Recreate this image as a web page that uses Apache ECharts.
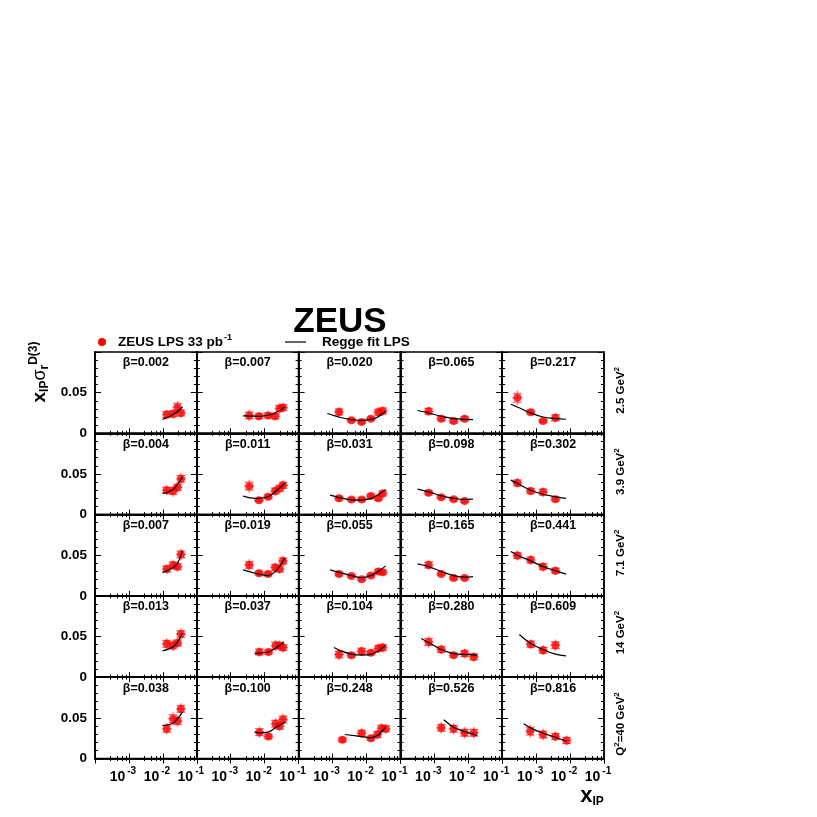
<!DOCTYPE html>
<html><head><meta charset="utf-8">
<script src="https://cdn.jsdelivr.net/npm/echarts@6/dist/echarts.min.js"></script>
<style>html,body{margin:0;padding:0;background:#fff}#c{width:817px;height:817px}</style>
</head><body><div id="c"></div>
<script>
// ---------- data ----------
const betaLabels = [
  'β=0.002','β=0.007','β=0.020','β=0.065','β=0.217',
  'β=0.004','β=0.011','β=0.031','β=0.098','β=0.302',
  'β=0.007','β=0.019','β=0.055','β=0.165','β=0.441',
  'β=0.013','β=0.037','β=0.104','β=0.280','β=0.609',
  'β=0.038','β=0.100','β=0.248','β=0.526','β=0.816'
];
const q2Labels = ['2.5 GeV{s|2}','3.9 GeV{s|2}','7.1 GeV{s|2}','14 GeV{s|2}','Q{s|2}=40 GeV{s|2}'];
const xTickValues = [0.001, 0.01, 0.1];
const xTickExponents = ['-3', '-2', '-1'];
const yTickValues = [0, 0.05];
const yTickTexts = ['0', '0.05'];

const pointX = [
  [0.013,0.020,0.027,0.034],
  [0.0035,0.0068,0.0126,0.0204,0.0275,0.0347],
  [0.00155,0.0036,0.0072,0.0135,0.0224,0.030],
  [0.00068,0.0016,0.0037,0.0078],
  [0.00028,0.00069,0.0016,0.0037],
  [0.013,0.020,0.027,0.034],
  [0.0035,0.0068,0.0126,0.0204,0.0275,0.0347],
  [0.00155,0.0036,0.0072,0.0135,0.0224,0.030],
  [0.00068,0.0016,0.0037,0.0078],
  [0.00028,0.00069,0.0016,0.0037],
  [0.013,0.020,0.027,0.034],
  [0.0035,0.0068,0.0126,0.0204,0.0275,0.0347],
  [0.00155,0.0036,0.0072,0.0135,0.0224,0.030],
  [0.00068,0.0016,0.0037,0.0078],
  [0.00028,0.00069,0.0016,0.0037],
  [0.013,0.020,0.027,0.034],
  [0.0070,0.0129,0.021,0.0275,0.0347],
  [0.00155,0.0036,0.0072,0.0135,0.0224,0.030],
  [0.00068,0.0016,0.0037,0.0078,0.0145],
  [0.00069,0.0016,0.0037],
  [0.013,0.020,0.027,0.034],
  [0.0070,0.0129,0.021,0.0275,0.0347],
  [0.00195,0.0072,0.0135,0.021,0.028,0.037],
  [0.0016,0.0037,0.0078,0.0145],
  [0.00067,0.0016,0.0037,0.0079]
];
const pointY = [
  [0.023,0.024,0.032,0.025],
  [0.022,0.021,0.022,0.021,0.0305,0.0317],
  [0.0263,0.016,0.014,0.018,0.026,0.0275],
  [0.027,0.018,0.015,0.018],
  [0.0436,0.026,0.015,0.019],
  [0.030,0.029,0.0335,0.044],
  [0.035,0.0178,0.022,0.029,0.032,0.036],
  [0.020,0.0187,0.0187,0.0228,0.020,0.026],
  [0.0268,0.0212,0.019,0.0166],
  [0.039,0.029,0.0277,0.019],
  [0.033,0.038,0.036,0.051],
  [0.038,0.028,0.027,0.035,0.033,0.043],
  [0.027,0.0246,0.0205,0.025,0.030,0.029],
  [0.038,0.027,0.022,0.022],
  [0.0496,0.0443,0.036,0.031],
  [0.041,0.039,0.042,0.053],
  [0.031,0.031,0.039,0.039,0.0365],
  [0.028,0.027,0.032,0.030,0.0353,0.0365],
  [0.0434,0.0341,0.0271,0.0291,0.025],
  [0.0406,0.0332,0.0394],
  [0.0365,0.049,0.046,0.061],
  [0.0324,0.0271,0.0427,0.0398,0.048],
  [0.023,0.031,0.025,0.0295,0.0373,0.0365],
  [0.0377,0.0365,0.0316,0.0316],
  [0.0336,0.0295,0.0271,0.0221]
];
const pointErr = [
  [0.006,0.006,0.008,0.006],
  [0.007,0.005,0.005,0.005,0.006,0.006],
  [0.006,0.003,0.003,0.003,0.006,0.006],
  [0.006,0.004,0.004,0.004],
  [0.009,0.004,0.003,0.006],
  [0.006,0.007,0.006,0.007],
  [0.008,0.003,0.004,0.006,0.006,0.006],
  [0.004,0.003,0.003,0.004,0.004,0.005],
  [0.004,0.003,0.003,0.003],
  [0.006,0.005,0.006,0.004],
  [0.006,0.006,0.006,0.007],
  [0.007,0.004,0.004,0.006,0.006,0.006],
  [0.004,0.003,0.003,0.003,0.004,0.004],
  [0.006,0.003,0.003,0.003],
  [0.006,0.006,0.006,0.005],
  [0.007,0.007,0.006,0.007],
  [0.006,0.004,0.007,0.006,0.006],
  [0.007,0.004,0.006,0.004,0.006,0.006],
  [0.007,0.006,0.004,0.006,0.006],
  [0.006,0.006,0.007],
  [0.007,0.008,0.007,0.007],
  [0.007,0.004,0.007,0.006,0.007],
  [0.004,0.006,0.004,0.006,0.006,0.006],
  [0.007,0.007,0.007,0.007],
  [0.008,0.007,0.006,0.006]
];
const fitX = [
  [0.0098,0.020,0.038],
  [0.0023,0.0075,0.018,0.039],
  [0.0007,0.0022,0.0072,0.018,0.037],
  [0.00032,0.00068,0.0016,0.0037,0.0138],
  [0.00018,0.00028,0.00069,0.0016,0.0037,0.0076],
  [0.0098,0.020,0.038],
  [0.0023,0.0054,0.0126,0.0204,0.039],
  [0.00085,0.0026,0.0051,0.0135,0.037],
  [0.00032,0.00068,0.0016,0.0037,0.0078,0.0138],
  [0.00018,0.00028,0.00069,0.0016,0.0037,0.0076],
  [0.0098,0.020,0.027,0.038],
  [0.0023,0.0068,0.0126,0.0204,0.0275,0.039],
  [0.00085,0.0036,0.0072,0.0135,0.022,0.037],
  [0.00032,0.00068,0.0016,0.0037,0.0078,0.0138],
  [0.00018,0.00028,0.00069,0.0016,0.0037,0.0076],
  [0.0098,0.020,0.027,0.038],
  [0.0051,0.0072,0.0126,0.0204,0.037],
  [0.0011,0.0016,0.0036,0.0072,0.0135,0.022,0.037],
  [0.00041,0.00068,0.0016,0.0037,0.0078,0.0186],
  [0.00032,0.00069,0.0016,0.0037,0.0076],
  [0.0098,0.020,0.027,0.038],
  [0.0051,0.0072,0.0126,0.0204,0.039],
  [0.0023,0.0072,0.0135,0.0224,0.030,0.037],
  [0.0019,0.0037,0.0078,0.0145,0.0186],
  [0.00043,0.00069,0.0016,0.0037,0.0079]
];
const fitY = [
  [0.0172,0.023,0.0324],
  [0.0214,0.021,0.024,0.0325],
  [0.0243,0.0185,0.016,0.0185,0.0275],
  [0.028,0.025,0.021,0.018,0.0169],
  [0.0358,0.0324,0.025,0.020,0.018,0.0173],
  [0.026,0.031,0.0465],
  [0.0228,0.020,0.022,0.028,0.0384],
  [0.024,0.019,0.0178,0.020,0.031],
  [0.0314,0.028,0.023,0.020,0.0187,0.019],
  [0.0424,0.0383,0.030,0.025,0.0219,0.020],
  [0.0287,0.035,0.040,0.0557],
  [0.032,0.0267,0.025,0.030,0.036,0.0463],
  [0.032,0.025,0.0225,0.025,0.030,0.0369],
  [0.0394,0.036,0.030,0.025,0.023,0.0238],
  [0.0545,0.050,0.0431,0.036,0.031,0.0267],
  [0.0324,0.0373,0.0434,0.0545],
  [0.0291,0.0295,0.031,0.0353,0.0434],
  [0.0365,0.0332,0.0283,0.0271,0.028,0.032,0.0394],
  [0.0476,0.0427,0.034,0.029,0.028,0.0271],
  [0.0525,0.0414,0.034,0.0283,0.0262],
  [0.0406,0.0434,0.0488,0.057],
  [0.0324,0.0316,0.0324,0.0377,0.0447],
  [0.0295,0.027,0.0254,0.029,0.0344,0.0385],
  [0.0476,0.0385,0.0332,0.0295,0.0283],
  [0.0427,0.0377,0.031,0.0262,0.0213]
];

// ---------- layout ----------
const FONT = '"Liberation Sans", Arial, Helvetica, sans-serif';
const L0 = 95, T0 = 352, CW = 101.8, CH = 81.3;
const NR = 5, NC = 5;
const grids = [], xAxes = [], yAxes = [], series = [], graphics = [];

function xLabelFmt(v) {
  const i = xTickValues.findIndex(t => Math.abs(t - v) / t < 1e-6);
  return i < 0 ? '' : '{b|10}{s|' + xTickExponents[i] + '}';
}
function yLabelFmt(v) {
  const i = yTickValues.findIndex(t => Math.abs(t - v) < 1e-9);
  return i < 0 ? '' : yTickTexts[i];
}

const tickStyle = {color: '#000', width: 1};
for (let r = 0; r < NR; r++) {
  for (let c = 0; c < NC; c++) {
    const k = r * NC + c;
    const left = L0 + c * CW, top = T0 + r * CH;
    grids.push({left: left, top: top, width: CW, height: CH, show: true,
      borderColor: '#000', borderWidth: 1.5, backgroundColor: 'transparent', containLabel: false});
    const xBase = {type: 'log', logBase: 10, gridIndex: k, min: 0.0001, max: 0.1,
      axisLine: {show: true, lineStyle: {color: '#000', width: 1.5}},
      axisTick: {show: true, inside: true, length: 5, lineStyle: tickStyle},
      minorTick: {show: true, splitNumber: 5, length: 2.5, lineStyle: tickStyle},
      splitLine: {show: false}, minorSplitLine: {show: false}};
    xAxes.push(Object.assign({}, xBase, {position: 'bottom',
      axisLabel: {show: r === NR - 1, formatter: xLabelFmt, margin: 8, padding: [0, 12, 0, 0],
        showMinLabel: false, hideOverlap: false,
        rich: {b: {fontSize: 14, fontWeight: 'bold', fontFamily: FONT, color: '#000'},
               s: {fontSize: 10, fontWeight: 'bold', fontFamily: FONT, color: '#000', padding: [0, 0, 11, 2]}}}}));
    xAxes.push(Object.assign({}, xBase, {position: 'top', axisLabel: {show: false}}));
    const yBase = {type: 'value', gridIndex: k, min: 0, max: 0.1, interval: 0.05,
      axisLine: {show: true, lineStyle: {color: '#000', width: 1.5}},
      axisTick: {show: true, inside: true, length: 6, lineStyle: tickStyle},
      minorTick: {show: true, splitNumber: 5, length: 3, lineStyle: tickStyle},
      splitLine: {show: false}};
    yAxes.push(Object.assign({}, yBase, {position: 'left',
      axisLabel: {show: c === 0, formatter: yLabelFmt, margin: 8, fontSize: 13.5, fontWeight: 'bold',
        fontFamily: FONT, color: '#000', showMaxLabel: false}}));
    yAxes.push(Object.assign({}, yBase, {position: 'right', axisLabel: {show: false}}));

    const xi = 2 * k, yi = 2 * k;
    series.push({type: 'custom', coordinateSystem: 'cartesian2d', xAxisIndex: xi, yAxisIndex: yi,
      data: pointX[k].map((x, i) => [x, pointY[k][i], pointErr[k][i]]),
      encode: {x: 0, y: 1}, z: 2, silent: true,
      renderItem: function (params, api) {
        const x = api.value(0), y = api.value(1), e = api.value(2);
        const p = api.coord([x, y]), hi = api.coord([x, y + e]), lo = api.coord([x, y - e]);
        const st = {stroke: 'rgba(255,70,70,0.75)', lineWidth: 1.4};
        const yu = p[1] + (hi[1] - p[1]) * 0.6, yd = p[1] + (lo[1] - p[1]) * 0.6;
        return {type: 'group', children: [
          {type: 'line', shape: {x1: p[0], y1: hi[1], x2: p[0], y2: lo[1]}, style: st},
          {type: 'line', shape: {x1: p[0] - 5, y1: p[1], x2: p[0] + 5, y2: p[1]}, style: st},
          {type: 'line', shape: {x1: p[0] - 4.5, y1: yu, x2: p[0] + 4.5, y2: yu}, style: st},
          {type: 'line', shape: {x1: p[0] - 4.5, y1: yd, x2: p[0] + 4.5, y2: yd}, style: st}
        ]};
      }});
    series.push({type: 'scatter', xAxisIndex: xi, yAxisIndex: yi, symbol: 'circle', symbolSize: 8,
      itemStyle: {color: '#ff0000'}, z: 3, silent: true,
      data: pointX[k].map((x, i) => [x, pointY[k][i]])});
    series.push({type: 'line', xAxisIndex: xi, yAxisIndex: yi, smooth: 0.4, showSymbol: false, symbol: 'none',
      lineStyle: {color: '#000', width: 1.2}, z: 4, silent: true,
      data: fitX[k].map((x, i) => [x, fitY[k][i]])});

    graphics.push({type: 'text', x: left + CW / 2, y: top + 11, z: 10,
      style: {text: betaLabels[k], fill: '#000', font: 'bold 12.5px ' + FONT, align: 'center', verticalAlign: 'middle'}});
  }
  graphics.push({type: 'text', x: 621, y: T0 + r * CH + 15, rotation: Math.PI / 2, z: 10,
    style: {text: '{m|' + q2Labels[r].replace(/\{s\|2\}/g, '}{s|2}{m|') + '}', align: 'right', verticalAlign: 'middle',
      rich: {m: {fontSize: 11.5, fontWeight: 'bold', fontFamily: FONT, fill: '#000'},
             s: {fontSize: 8, fontWeight: 'bold', fontFamily: FONT, fill: '#000', padding: [0, 0, 8, 0]}}}});
}

// title, legend, axis titles
graphics.push({type: 'text', x: 340, y: 322, z: 10,
  style: {text: 'ZEUS', fill: '#000', font: 'bold 35px ' + FONT, align: 'center', verticalAlign: 'middle'}});
graphics.push({type: 'circle', shape: {cx: 102, cy: 342, r: 4}, style: {fill: '#ff0000'}, z: 10});
graphics.push({type: 'text', x: 118, y: 342, z: 10,
  style: {text: '{a|ZEUS LPS 33 pb}{s|-1}', align: 'left', verticalAlign: 'middle',
    rich: {a: {fontSize: 13.5, fontWeight: 'bold', fontFamily: FONT, fill: '#000'},
           s: {fontSize: 9, fontWeight: 'bold', fontFamily: FONT, fill: '#000', padding: [0, 0, 9, 1]}}}});
graphics.push({type: 'line', shape: {x1: 285, y1: 342, x2: 306, y2: 342}, style: {stroke: '#000', lineWidth: 1.2}, z: 10});
graphics.push({type: 'text', x: 322, y: 342, z: 10,
  style: {text: 'Regge fit LPS', fill: '#000', font: 'bold 13.5px ' + FONT, align: 'left', verticalAlign: 'middle'}});
graphics.push({type: 'text', x: 40, y: 372, rotation: Math.PI / 2, z: 10,
  style: {text: '{x|x}{sub|IP}{g|σ}{sub|r}{sup|D(3)}', align: 'center', verticalAlign: 'middle',
    rich: {x: {fontSize: 19, fontWeight: 'bold', fontFamily: FONT, fill: '#000'},
           g: {fontSize: 18, fontFamily: FONT, fill: '#000'},
           sub: {fontSize: 12, fontWeight: 'bold', fontFamily: FONT, fill: '#000', padding: [10, 0, 0, 0]},
           sup: {fontSize: 12, fontWeight: 'bold', fontFamily: FONT, fill: '#000', padding: [0, 0, 12, 0]}}}});
graphics.push({type: 'text', x: 592, y: 796, z: 10,
  style: {text: '{x|x}{sub|IP}', align: 'center', verticalAlign: 'middle',
    rich: {x: {fontSize: 22, fontWeight: 'bold', fontFamily: FONT, fill: '#000'},
           sub: {fontSize: 12, fontWeight: 'bold', fontFamily: FONT, fill: '#000', padding: [12, 0, 0, 0]}}}});

const chart = echarts.init(document.getElementById('c'), null, {renderer: 'canvas'});
chart.setOption({
  animation: false,
  backgroundColor: '#fff',
  grid: grids, xAxis: xAxes, yAxis: yAxes, series: series,
  graphic: {elements: graphics}
});
</script></body></html>
